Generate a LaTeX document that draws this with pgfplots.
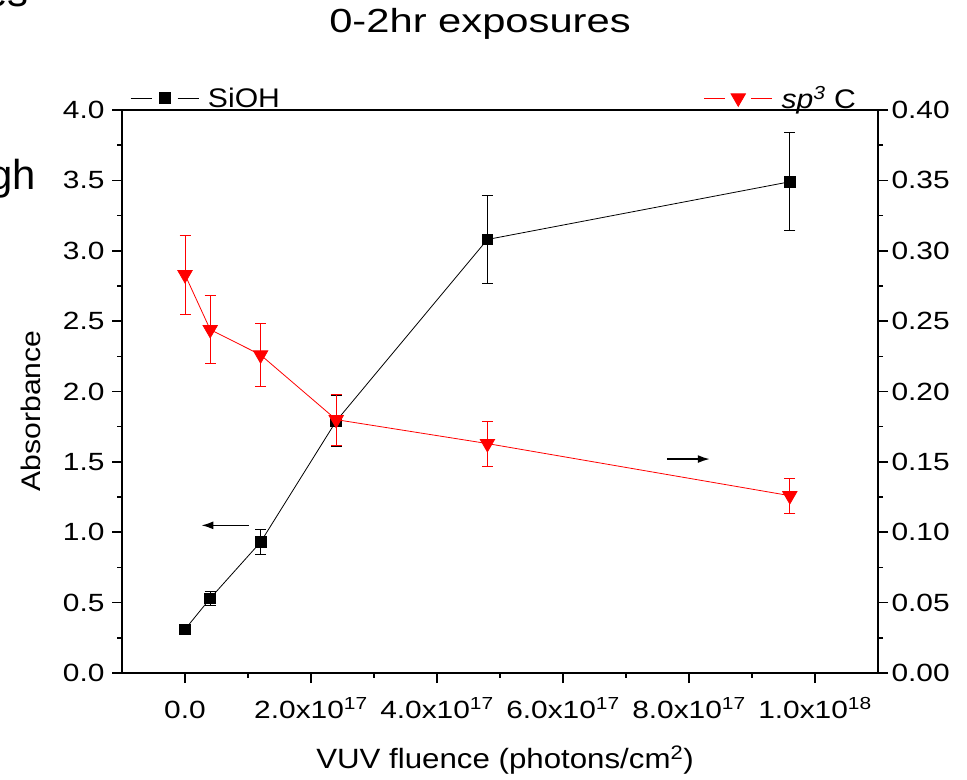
\documentclass[border=0pt]{standalone}
\usepackage{fontspec}
\setmainfont{Liberation Sans}[FakeStretch=1.12]
\newfontfamily\titlefont{Liberation Sans}[FakeStretch=1.25]
\newfontfamily\tickfont{Liberation Sans}[FakeStretch=1.2]
\newfontfamily\plainfont{Liberation Sans}
\usepackage{pgfplots}
\pgfplotsset{compat=1.18}
\usetikzlibrary{arrows.meta}

\pgfplotstableread{
x    y     e
0.0  0.31  0.0
0.4  0.53  0.05
1.2  0.93  0.09
2.4  1.79  0.18
4.8  3.08  0.31
9.6  3.49  0.348
}\siohtable

\pgfplotstableread{
x    y      e
0.0  0.283  0.028
0.4  0.244  0.024
1.2  0.226  0.0225
2.4  0.180  0.018
4.8  0.163  0.016
9.6  0.126  0.0126
}\spctable

\pgfplotsset{
  common/.style={
    at={(122bp,107bp)}, anchor=south west,
    scale only axis, width=756bp, height=563bp,
    xmin=-1, xmax=11,
    tick align=outside,
    major tick length=10bp, minor tick length=5bp,
    axis line style={line width=1.6bp},
    every tick/.style={line width=1.6bp, black},
    tick label style={font=\tickfont\fontsize{25}{30}\selectfont},
    /pgf/number format/assume math mode=true,
    legend style={draw=none, fill=none, inner sep=0pt,
      font=\fontsize{27}{32}\selectfont},
    legend image code/.code={
      \draw[#1, mark=none] (0bp,0bp) -- (21bp,0bp);
      \draw[#1, mark=none] (47bp,0bp) -- (68bp,0bp);
      \path[#1] plot coordinates {(34bp,0bp)};
    },
  }
}

\begin{document}
\begin{tikzpicture}
\useasboundingbox (0bp,0bp) rectangle (967bp,780bp);

\begin{axis}[common,
  ymin=0, ymax=4,
  xtick={0,2,4,6,8,10},
  xticklabels={0.0, 2.0x10\textsuperscript{17}, 4.0x10\textsuperscript{17}, 6.0x10\textsuperscript{17}, 8.0x10\textsuperscript{17}, 1.0x10\textsuperscript{18}},
  xticklabel style={text height=22bp, text depth=5bp, yshift=-10bp},
  minor x tick num=1,
  ytick={0,0.5,1,1.5,2,2.5,3,3.5,4},
  minor y tick num=1,
  xtick pos=bottom, ytick pos=left,
  yticklabel style={/pgf/number format/fixed, /pgf/number format/fixed zerofill, /pgf/number format/precision=1, xshift=-4bp},
  legend style={at={(8/756,1+12/563)}, anchor=west},
]
\addplot[black, line width=0.8bp, mark=square*, mark size=5.4bp, mark options={solid},
  error bars/.cd, y dir=both, y explicit,
  error bar style={line width=0.8bp, black},
  error mark options={rotate=90, mark size=5.5bp, line width=0.8bp, black}]
  table[x=x, y=y, y error=e] {\siohtable};
\addlegendentry{\hspace*{7bp}SiOH}
\draw[-{Latex[length=12bp,width=8bp]}, line width=1.6bp] (axis cs:1.01,1.049) -- (axis cs:0.26,1.049);
\draw[-{Latex[length=12bp,width=8bp]}, line width=1.6bp] (axis cs:7.65,1.52) -- (axis cs:8.33,1.52);
\end{axis}

\begin{axis}[common,
  ymin=0, ymax=0.4,
  axis x line=none, axis y line*=right,
  ytick={0,0.05,0.1,0.15,0.2,0.25,0.3,0.35,0.4},
  minor y tick num=1,
  yticklabel style={/pgf/number format/fixed, /pgf/number format/fixed zerofill, /pgf/number format/precision=2},
  legend style={at={(1-20/756,1+12/563)}, anchor=east},
]
\addplot[red, line width=0.8bp, mark=triangle*, mark size=8.3bp, mark options={solid, rotate=180},
  error bars/.cd, y dir=both, y explicit,
  error bar style={line width=0.8bp, red},
  error mark options={rotate=90, mark size=5.5bp, line width=0.8bp, red}]
  table[x=x, y=y, y error=e] {\spctable};
\addlegendentry{\hspace*{7bp}\textit{sp}\textsuperscript{\textit{3}} C}
\end{axis}

\node[anchor=base, inner sep=0pt, font=\titlefont\fontsize{33.5}{40}\selectfont] at (480bp,747bp) {0-2hr exposures};
\node[anchor=base, inner sep=0pt, font=\fontsize{28}{33}\selectfont] at (505bp,12bp) {VUV fluence (photons/cm\textsuperscript{2})};
\node[anchor=base, rotate=90, inner sep=0pt, font=\fontsize{27}{32}\selectfont] at (40bp,369bp) {Absorbance};
\node[anchor=base east, inner sep=0pt, font=\plainfont\fontsize{42}{48}\selectfont] at (36bp,590bp) {gh};
\node[anchor=base east, inner sep=0pt, font=\plainfont\fontsize{42}{48}\selectfont] at (29bp,773bp) {es};
\end{tikzpicture}
\end{document}
